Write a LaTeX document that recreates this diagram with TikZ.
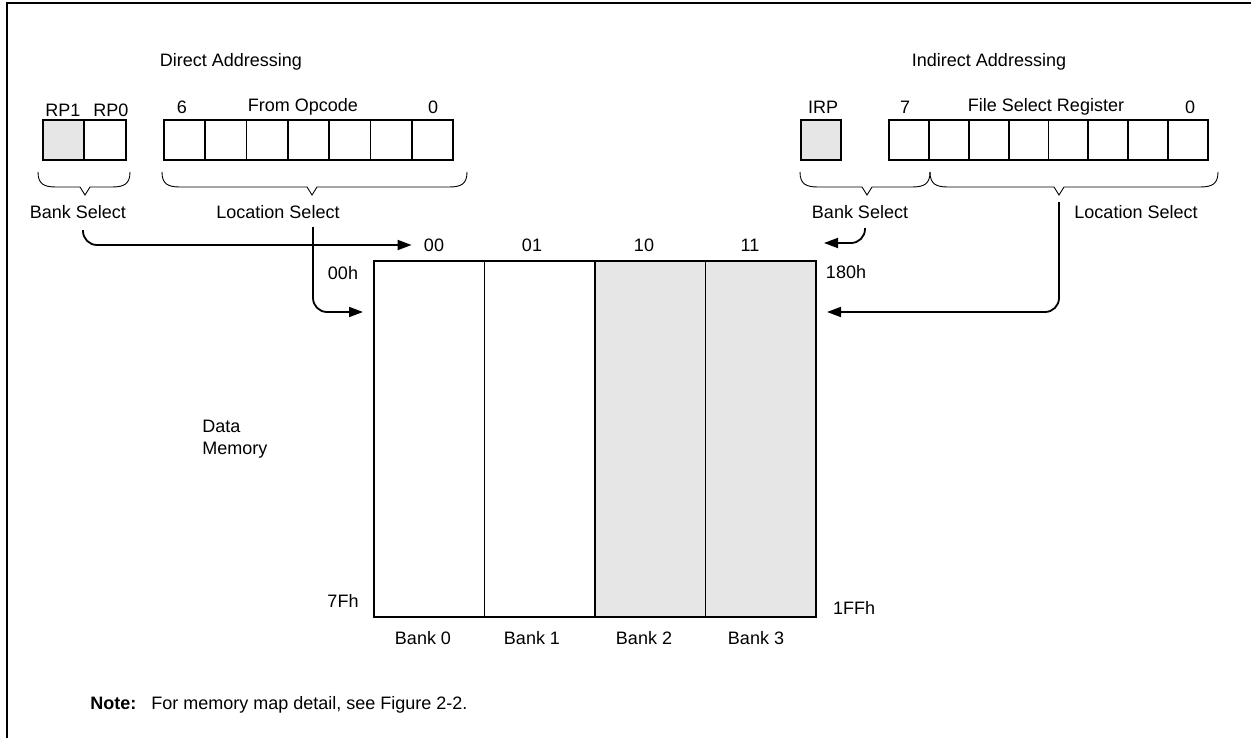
\documentclass[tikz,border=0pt]{standalone}
\usepackage{fontspec}
\setmainfont{Liberation Sans}
\usetikzlibrary{arrows.meta}
\definecolor{shade}{HTML}{E6E6E6}
\begin{document}
\begin{tikzpicture}[x=0.5pt,y=-0.5pt,
  font=\fontsize{9}{10.5}\selectfont,
  lbl/.style={inner sep=0pt, anchor=center},
  cellbox/.style={draw, line width=0.9pt},
  graycell/.style={cellbox, fill=shade},
  brace/.style={line width=0.45pt},
  arr/.style={line width=0.9pt, rounded corners=7pt, -{Triangle[length=7pt,width=5pt]}}]
\useasboundingbox (0,0) rectangle (1251,738);
% frame
\draw[line width=1pt] (6.5,738) -- (6.5,3) -- (1251,3);

% titles
\node[lbl] (da) at (231,62) {Direct Addressing};
\node[lbl] (ia) at (989,62) {Indirect Addressing};

% direct addressing registers
\node[lbl] (rp1) at (63,110) {RP1};
\node[lbl] (rp0) at (111,110) {RP0};
\node[lbl] (b6) at (182,107) {6};
\node[lbl] (fo) at (303,107) {From Opcode};
\node[lbl] (b0) at (433,107) {0};
\draw[graycell] (43,120) rectangle (84,160);
\draw[cellbox] (84,120) rectangle (126,160);
\foreach \i in {0,...,6}{
  \draw[cellbox] ({164+\i*41.286},120) rectangle ({164+(\i+1)*41.286},160);
}

% indirect addressing registers
\node[lbl] (irp) at (823,107) {IRP};
\node[lbl] (b7) at (905,107) {7};
\node[lbl] (fsr) at (1046,107) {File Select Register};
\node[lbl] (c0) at (1190,107) {0};
\draw[graycell] (801,120) rectangle (841,160);
\foreach \i in {0,...,7}{
  \draw[cellbox] ({889+\i*39.875},120) rectangle ({889+(\i+1)*39.875},160);
}

% braces
\newcommand{\mybrace}[3]{%
  \draw[brace] (#1,172) .. controls (#1,184) and (#1+6,187) .. (#1+18,187)
     -- (#3-5,187) -- (#3,195) -- (#3+5,187) -- (#2-18,187)
     .. controls (#2-6,187) and (#2,184) .. (#2,172);}
\mybrace{38}{130}{85}
\mybrace{162}{467}{312}
\mybrace{800}{930}{867}
\mybrace{930}{1218}{1059}

% brace labels
\node[lbl] (bsd) at (78,212) {Bank Select};
\node[lbl] (lsd) at (278,212) {Location Select};
\node[lbl] (bsi) at (860,212) {Bank Select};
\node[lbl] (lsi) at (1136,212) {Location Select};

% memory
\draw[cellbox] (374,261) rectangle (484.5,617);
\draw[cellbox] (484.5,261) rectangle (595,617);
\draw[graycell] (595,261) rectangle (705.5,617);
\draw[graycell] (705.5,261) rectangle (816,617);

\node[lbl] (k00) at (434,245) {00};
\node[lbl] (k01) at (532,245) {01};
\node[lbl] (k10) at (644,245) {10};
\node[lbl] (k11) at (750,245) {11};

\node[lbl] (h00) at (343,273) {00h};
\node[lbl] (h7f) at (343,601) {7Fh};
\node[lbl] (h180) at (846,272) {180h};
\node[lbl] (h1ff) at (854,608) {1FFh};

\node[lbl] (bk0) at (423,638) {Bank 0};
\node[lbl] (bk1) at (532,638) {Bank 1};
\node[lbl] (bk2) at (644,638) {Bank 2};
\node[lbl] (bk3) at (756,638) {Bank 3};

\node[lbl, anchor=west] (dm1) at (202,426) {Data};
\node[lbl, anchor=west] (dm2) at (202,450) {Memory};

\node[lbl, anchor=west] (note) at (90,705) {\textbf{Note:}\hspace{7.5pt}For memory map detail, see Figure 2-2.};

% connectors
\coordinate (bsdS) at (83,230);
\coordinate (lsdS) at (313,227);
\coordinate (bsiS) at (865,228);
\coordinate (lsiS) at (1059,202);
\coordinate (dirT) at (363,312);
\coordinate (indT) at (827,312);
\coordinate (bsiT) at (824,243);
\draw[arr] (bsdS) |- ([xshift=-6pt]k00.west);
\draw[arr] (lsdS) |- (dirT);
\draw[arr] (bsiS) |- (bsiT);
\draw[arr] (lsiS) |- (indT);
\end{tikzpicture}
\end{document}
